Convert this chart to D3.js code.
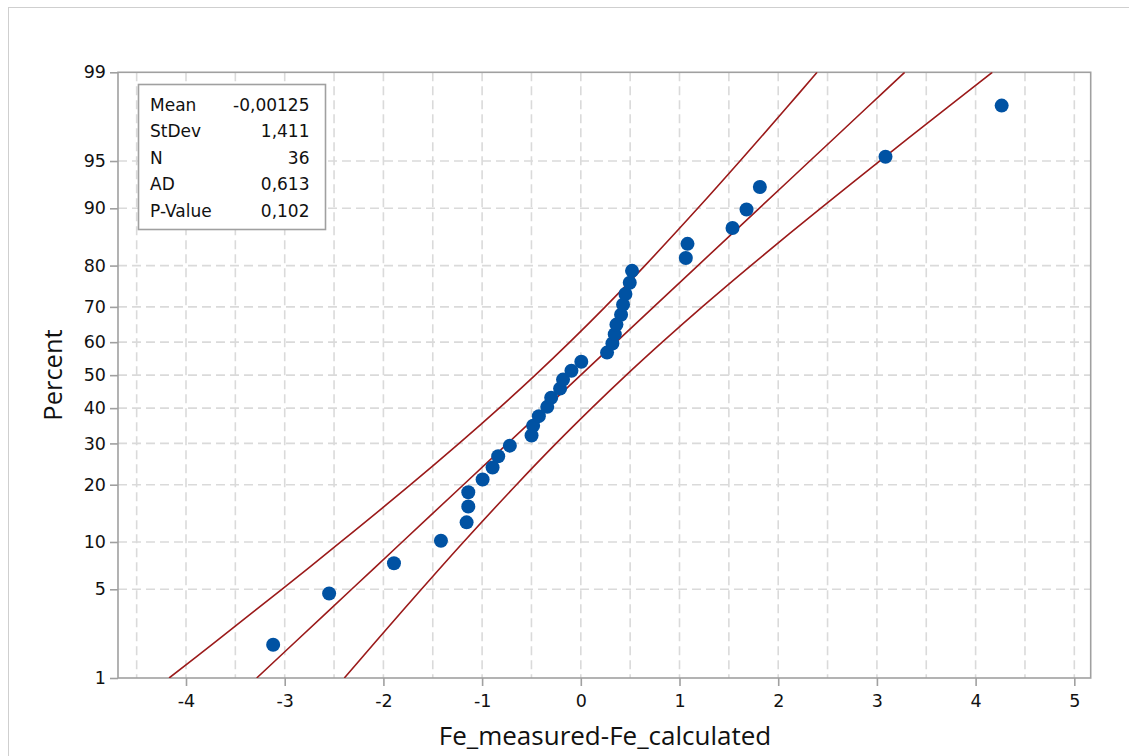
<!DOCTYPE html>
<html>
<head>
<meta charset="utf-8">
<script src="https://cdn.jsdelivr.net/npm/d3@7"></script>
<style>
  html, body { margin: 0; padding: 0; background: #fff; }
  svg { display: block; }
  text { fill: #111; }
  .small { font-family: "DejaVu Sans", "Open Sans", sans-serif; }
  .title { font-family: "Open Sans", "Noto Sans", sans-serif; }
</style>
</head>
<body>
<svg id="chart" width="1129" height="756"></svg>
<script>
// ---- data ----
const xValues = [-3.117, -2.55, -1.893, -1.417, -1.157, -1.14, -1.14, -0.995, -0.894, -0.837,
                 -0.719, -0.499, -0.483, -0.425, -0.34, -0.30, -0.21, -0.18, -0.095, 0.005,
                 0.266, 0.32, 0.344, 0.361, 0.408, 0.428, 0.452, 0.496, 0.519, 1.064,
                 1.081, 1.537, 1.679, 1.814, 3.087, 4.264];
const pctValues = [1.92, 4.67, 7.42, 10.16, 12.91, 15.66, 18.41, 21.15, 23.90, 26.65,
                   29.40, 32.14, 34.89, 37.64, 40.38, 43.13, 45.88, 48.63, 51.37, 54.12,
                   56.87, 59.62, 62.36, 65.11, 67.86, 70.60, 73.35, 76.10, 78.85, 81.59,
                   84.34, 87.09, 89.84, 92.58, 95.33, 98.08];
const linePct   = [1, 2, 5, 10, 20, 30, 40, 50, 60, 70, 80, 90, 95, 98, 99];
const fitX      = [-3.284, -2.899, -2.322, -1.810, -1.189, -0.741, -0.359, -0.001, 0.356, 0.739, 1.186, 1.807, 2.320, 2.897, 3.281];
const lowerX    = [-4.171, -3.712, -3.029, -2.432, -1.725, -1.233, -0.827, -0.462, -0.112, 0.247, 0.650, 1.185, 1.613, 2.084, 2.394];
const upperX    = [-2.396, -2.086, -1.615, -1.188, -0.652, -0.250, 0.110, 0.460, 0.825, 1.230, 1.723, 2.429, 3.027, 3.709, 4.169];
const xTicks    = [-4, -3, -2, -1, 0, 1, 2, 3, 4, 5];
const xGrid     = [-4.5, -4, -3.5, -3, -2.5, -2, -1.5, -1, -0.5, 0, 0.5, 1, 1.5, 2, 2.5, 3, 3.5, 4, 4.5, 5];
const yTicks    = [1, 5, 10, 20, 30, 40, 50, 60, 70, 80, 90, 95, 99];
const statLabels = ["Mean", "StDev", "N", "AD", "P-Value"];
const statValues = ["-0,00125", "1,411", "36", "0,613", "0,102"];

// ---- normal quantile (probit) for the probability axis ----
function probit(p) {
  const a = [-3.969683028665376e+01, 2.209460984245205e+02, -2.759285104469687e+02, 1.383577518672690e+02, -3.066479806614716e+01, 2.506628277459239e+00];
  const b = [-5.447609879822406e+01, 1.615858368580409e+02, -1.556989798598866e+02, 6.680131188771972e+01, -1.328068155288572e+01];
  const c = [-7.784894002430293e-03, -3.223964580411365e-01, -2.400758277161838e+00, -2.549732539343734e+00, 4.374664141464968e+00, 2.938163982698783e+00];
  const d = [7.784695709041462e-03, 3.224671290700398e-01, 2.445134137142996e+00, 3.754408661907416e+00];
  const pl = 0.02425, ph = 1 - pl;
  let q, r;
  if (p < pl) {
    q = Math.sqrt(-2 * Math.log(p));
    return (((((c[0]*q+c[1])*q+c[2])*q+c[3])*q+c[4])*q+c[5]) / ((((d[0]*q+d[1])*q+d[2])*q+d[3])*q+1);
  } else if (p <= ph) {
    q = p - 0.5; r = q * q;
    return (((((a[0]*r+a[1])*r+a[2])*r+a[3])*r+a[4])*r+a[5])*q / (((((b[0]*r+b[1])*r+b[2])*r+b[3])*r+b[4])*r+1);
  } else {
    q = Math.sqrt(-2 * Math.log(1 - p));
    return -(((((c[0]*q+c[1])*q+c[2])*q+c[3])*q+c[4])*q+c[5]) / ((((d[0]*q+d[1])*q+d[2])*q+d[3])*q+1);
  }
}

// ---- layout ----
const L = 118, R = 1090.7, T = 72.3, B = 678;
const svg = d3.select("#chart");

const x = d3.scaleLinear().domain([-4.689, 5.166]).range([L, R]);
const zScale = d3.scaleLinear().domain([probit(0.01), probit(0.99)]).range([B, T]);
const y = pct => zScale(probit(pct / 100));

// outer border
svg.append("rect").attr("x", 8.5).attr("y", 7.5).attr("width", 1140).attr("height", 760)
  .attr("fill", "none").attr("stroke", "#cfcfcf").attr("stroke-width", 1);

svg.append("clipPath").attr("id", "plotclip")
  .append("rect").attr("x", L).attr("y", T).attr("width", R - L).attr("height", B - T);

// grid
const grid = svg.append("g");
grid.selectAll("line.vg").data(xGrid).join("line")
  .attr("x1", d => x(d)).attr("x2", d => x(d)).attr("y1", T).attr("y2", B)
  .attr("stroke", "#dadada").attr("stroke-width", 1.6).attr("stroke-dasharray", "9,5");
grid.selectAll("line.hg").data(yTicks.filter(d => d !== 1 && d !== 99)).join("line")
  .attr("x1", L).attr("x2", R).attr("y1", d => y(d)).attr("y2", d => y(d))
  .attr("stroke", "#dadada").attr("stroke-width", 1.6).attr("stroke-dasharray", "9,5");

// frame
svg.append("rect").attr("x", L).attr("y", T).attr("width", R - L).attr("height", B - T)
  .attr("fill", "none").attr("stroke", "#a0a0a0").attr("stroke-width", 1.6);

// axes
const xAxis = d3.axisBottom(x).tickValues(xTicks).tickSize(8).tickPadding(9).tickFormat(d3.format("d"));
const gx = svg.append("g").attr("transform", `translate(0,${B})`).call(xAxis);
gx.select(".domain").remove();
gx.selectAll(".tick line").attr("stroke", "#a0a0a0").attr("stroke-width", 1.6);
gx.selectAll(".tick text").attr("font-size", 17.5).attr("fill", "#111").attr("class", "small")
  .attr("font-family", null)
  .text(d => d < 0 ? "-" + Math.abs(d) : String(d));

const yAxis = d3.axisLeft(zScale).tickValues(yTicks.map(p => probit(p / 100))).tickSize(8).tickPadding(4)
  .tickFormat((d, i) => String(yTicks[i]));
const gy = svg.append("g").attr("transform", `translate(${L},0)`).call(yAxis);
gy.select(".domain").remove();
gy.selectAll(".tick line").attr("stroke", "#a0a0a0").attr("stroke-width", 1.6);
gy.selectAll(".tick text").attr("font-size", 17.5).attr("fill", "#111").attr("class", "small");
gx.attr("font-family", null); gy.attr("font-family", null);

// axis titles
svg.append("text").attr("class", "title").attr("x", 605).attr("y", 745).attr("text-anchor", "middle")
  .attr("font-size", 26).text("Fe_measured-Fe_calculated");
svg.append("text").attr("class", "title").attr("transform", "translate(62,375) rotate(-90)").attr("text-anchor", "middle")
  .attr("font-size", 25.5).text("Percent");

// fit and confidence lines
const lineGen = (arr) => d3.line()
  .x((d, i) => x(arr[i])).y(d => y(d)).curve(d3.curveCatmullRom)(linePct);
const lines = svg.append("g").attr("clip-path", "url(#plotclip)");
[lowerX, fitX, upperX].forEach(arr => {
  lines.append("path").attr("d", lineGen(arr)).attr("fill", "none")
    .attr("stroke", "#9b1a1a").attr("stroke-width", 1.6);
});

// points
svg.append("g").selectAll("circle").data(xValues).join("circle")
  .attr("cx", d => x(d)).attr("cy", (d, i) => y(pctValues[i])).attr("r", 7)
  .attr("fill", "#0052a3");

// stats box
const box = svg.append("g");
box.append("rect").attr("x", 138.5).attr("y", 84.5).attr("width", 187).attr("height", 145)
  .attr("fill", "#fff").attr("stroke", "#a0a0a0").attr("stroke-width", 1.6);
statLabels.forEach((s, i) => {
  const yy = 110.7 + i * 26.5;
  box.append("text").attr("class", "small").attr("x", 150).attr("y", yy).attr("font-size", 17).text(s);
  box.append("text").attr("class", "small").attr("x", 309.5).attr("y", yy).attr("font-size", 17)
    .attr("text-anchor", "end").text(statValues[i]);
});
</script>
</body>
</html>
